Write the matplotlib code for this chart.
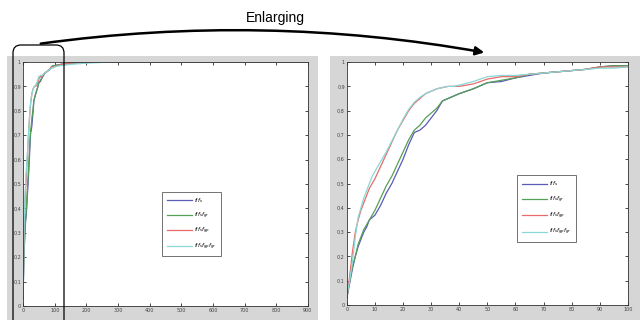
import matplotlib
matplotlib.use("Agg")
import matplotlib.pyplot as plt
from matplotlib.patches import Rectangle, FancyBboxPatch, FancyArrowPatch
from matplotlib.transforms import IdentityTransform
from matplotlib.ticker import FuncFormatter

# ---- data ----
x_zoom = [0, 1, 2, 3, 4, 5, 6, 7, 8, 9, 10, 12, 14, 16, 18, 20, 22, 24, 26, 28, 30,
          32, 34, 36, 38, 40, 45, 50, 55, 60, 65, 70, 75, 80, 85, 90, 95, 100]
blue = [0.03, 0.09, 0.15, 0.20, 0.24, 0.27, 0.30, 0.32, 0.35, 0.36, 0.37, 0.41, 0.46, 0.50,
        0.55, 0.60, 0.66, 0.71, 0.72, 0.74, 0.77, 0.80, 0.84, 0.85, 0.86, 0.87, 0.89, 0.915,
        0.92, 0.935, 0.945, 0.955, 0.96, 0.965, 0.97, 0.98, 0.985, 0.985]
green = [0.03, 0.10, 0.16, 0.20, 0.25, 0.28, 0.31, 0.33, 0.35, 0.37, 0.39, 0.44, 0.49, 0.53,
         0.58, 0.63, 0.68, 0.72, 0.74, 0.77, 0.79, 0.81, 0.84, 0.85, 0.86, 0.87, 0.89, 0.915,
         0.925, 0.935, 0.95, 0.955, 0.96, 0.965, 0.97, 0.98, 0.985, 0.985]
red = [0.03, 0.12, 0.22, 0.30, 0.35, 0.39, 0.42, 0.45, 0.48, 0.50, 0.52, 0.57, 0.62, 0.67,
       0.72, 0.76, 0.80, 0.83, 0.85, 0.87, 0.88, 0.89, 0.895, 0.90, 0.90, 0.90, 0.91, 0.93,
       0.94, 0.94, 0.95, 0.955, 0.96, 0.965, 0.97, 0.98, 0.98, 0.98]
cyan = [0.04, 0.10, 0.18, 0.28, 0.36, 0.40, 0.44, 0.47, 0.50, 0.53, 0.55, 0.59, 0.63, 0.675,
        0.72, 0.765, 0.805, 0.835, 0.855, 0.87, 0.88, 0.89, 0.895, 0.90, 0.90, 0.905, 0.92, 0.94,
        0.945, 0.945, 0.95, 0.955, 0.96, 0.965, 0.97, 0.975, 0.975, 0.98]
x_tail = [120, 150, 200, 250, 300, 900]
blue_tail = [0.99, 0.995, 0.998, 1.0, 1.0, 1.0]
green_tail = [0.99, 0.995, 0.998, 1.0, 1.0, 1.0]
red_tail = [0.99, 0.995, 0.998, 1.0, 1.0, 1.0]
cyan_tail = [0.985, 0.99, 0.995, 0.998, 1.0, 1.0]
labels = [r"$f_l f_s$", r"$f_l f_s f_{gr}$", r"$f_l f_s f_{gp}$", r"$f_l f_s f_{gp} f_{gr}$"]
colors = ["#5a5ab8", "#55a055", "#e86a6a", "#8ad8d8"]
left_xticks = [0, 100, 200, 300, 400, 500, 600, 700, 800, 900]
right_xticks = [0, 10, 20, 30, 40, 50, 60, 70, 80, 90, 100]
yticks = [0, 0.1, 0.2, 0.3, 0.4, 0.5, 0.6, 0.7, 0.8, 0.9, 1.0]

fig = plt.figure(figsize=(6.4, 3.2), dpi=100)
fig.patch.set_facecolor("white")

# gray panels (pixel coords, y from bottom)
fig.patches.append(Rectangle((7, 0), 311, 264, transform=IdentityTransform(),
                             facecolor="#d6d6d6", edgecolor="none", zorder=-2))
fig.patches.append(Rectangle((330, 0), 310, 264, transform=IdentityTransform(),
                             facecolor="#d6d6d6", edgecolor="none", zorder=-2))

fmt = FuncFormatter(lambda v, p: ("%g" % round(v, 1)).replace(".", ","))

def style(ax, xticks, xmax):
    ax.set_xlim(0, xmax)
    ax.set_ylim(0, 1)
    ax.set_xticks(xticks)
    ax.set_yticks(yticks)
    ax.yaxis.set_major_formatter(fmt)
    ax.tick_params(direction="in", length=2, width=0.5, labelsize=3.5,
                   labelcolor="#444444", top=True, right=True, pad=1.5)
    for s in ax.spines.values():
        s.set_linewidth(0.6)
        s.set_color("#333333")

axL = fig.add_axes([0.036, 0.044, 0.445, 0.7625])
for y, t, c, l in zip([blue, green, red, cyan], [blue_tail, green_tail, red_tail, cyan_tail], colors, labels):
    axL.plot(x_zoom + x_tail, y + t, color=c, lw=0.9, label=l)
style(axL, left_xticks, 900)
legL = axL.legend(loc="upper left", bbox_to_anchor=(0.479, 0.479), fontsize=4,
                  frameon=True, fancybox=False, edgecolor="#333333", handlelength=4.5,
                  labelspacing=0.95, borderpad=0.8, handletextpad=0.4)
legL.get_frame().set_linewidth(0.6)

axR = fig.add_axes([0.542, 0.047, 0.439, 0.759])
for y, c, l in zip([blue, green, red, cyan], colors, labels):
    axR.plot(x_zoom, y, color=c, lw=0.9, label=l)
style(axR, right_xticks, 100)
legR = axR.legend(loc="upper left", bbox_to_anchor=(0.597, 0.546), fontsize=4,
                  frameon=True, fancybox=False, edgecolor="#333333", handlelength=4.5,
                  labelspacing=1.1, borderpad=0.8, handletextpad=0.4)
legR.get_frame().set_linewidth(0.6)

# rounded rectangle highlight
fig.patches.append(FancyBboxPatch((13, -10), 51, 285, boxstyle="round,pad=0,rounding_size=8",
                                  transform=IdentityTransform(), facecolor="none",
                                  edgecolor="black", lw=0.9, zorder=5))

# curved arrow
fig.text(275 / 640, 1 - 18 / 320, "Enlarging", ha="center", va="center", fontsize=10,
         family="Liberation Sans")
fig.add_artist(FancyArrowPatch(
    (38, 320 - 44), (487, 320 - 53), transform=IdentityTransform(),
    connectionstyle="arc3,rad=-0.08", arrowstyle="-|>,head_length=5,head_width=2.5",
    color="black", lw=1.8, zorder=6))

fig.savefig("out.png", dpi=100)
